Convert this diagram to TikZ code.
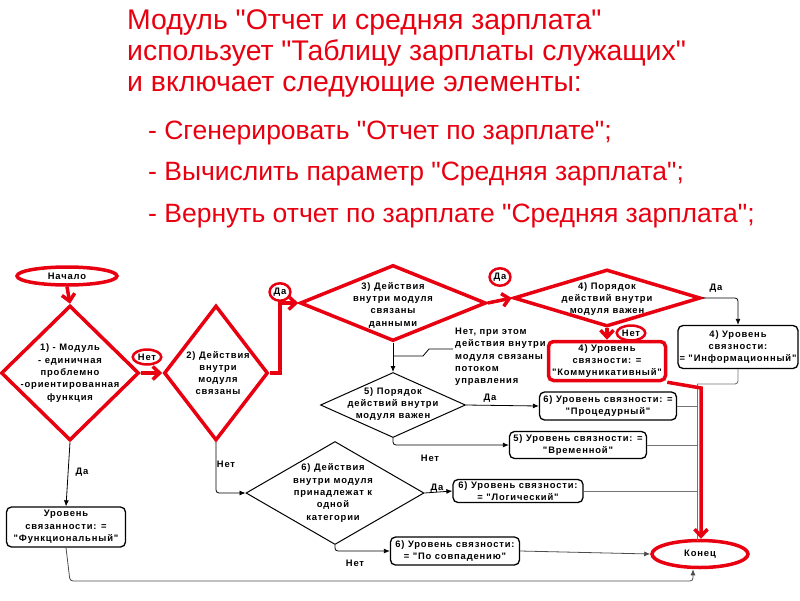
\documentclass[tikz,border=0pt]{standalone}
\usepackage{fontspec}
\setmainfont{Liberation Sans}
\newfontfamily\ttlfont{Liberation Sans}
\newfontfamily\dg[LetterSpace=9]{Liberation Sans}
\usetikzlibrary{shapes.geometric,arrows.meta}
\definecolor{hl}{RGB}{232,0,16}
\begin{document}
\begin{tikzpicture}[x=1pt,y=-1pt,
  dtxt/.style={font=\dg\bfseries\fontsize{9.4}{12.3}\selectfont, align=center, inner sep=0pt},
  rdia/.style={diamond, draw=hl, line width=3.5pt, inner sep=0pt},
  bdia/.style={diamond, draw=black, line width=1pt, inner sep=0pt},
  rbx/.style={dtxt, draw=black, line width=1.3pt, rounded corners=5pt},
  rbxred/.style={rbx, draw=hl, line width=3.5pt},
  rell/.style={dtxt, ellipse, draw=hl, line width=3.5pt},
  rlab/.style={dtxt, ellipse, draw=hl, line width=2.5pt, inner xsep=1pt, inner ysep=2pt},
  blab/.style={dtxt},
  con/.style={draw=black, line width=0.8pt, rounded corners=3pt, -{Latex[length=6pt,width=5pt]}},
  ln/.style={draw=black!55, line width=0.9pt, rounded corners=3pt},
  rar/.style={draw=hl, line width=3.5pt, -{Straight Barb[length=7pt,width=13pt]}},
  ttl/.style={anchor=base west, inner sep=0pt, text=hl, font=\ttlfont\fontsize{28.4}{30}\selectfont},
  ttlb/.style={ttl, font=\ttlfont\fontsize{26.5}{30}\selectfont}]
\useasboundingbox (0,0) rectangle (800,600);

% title
\node[ttl] (t1) at (127,29) {Модуль "Отчет и средняя зарплата"};
\node[ttl] (t2) at (127,60) {использует "Таблицу зарплаты служащих"};
\node[ttl] (t3) at (127,91) {и включает следующие элементы:};
\node[ttlb] (b1) at (148,139) {- Сгенерировать "Отчет по зарплате";};
\node[ttlb] (b2) at (148,180) {- Вычислить параметр "Средняя зарплата";};
\node[ttlb] (b3) at (148,222) {- Вернуть отчет по зарплате "Средняя зарплата";};

% diamonds
\node[rdia, minimum width=138pt, minimum height=135pt] (d1) at (70,373) {};
\node[dtxt] (d1t) at (70,373) {1) - Модуль\\- единичная\\проблемно\\-ориентированная\\функция};
\node[rdia, minimum width=104pt, minimum height=135pt] (d2) at (216,373) {};
\node[dtxt] (d2t) at (218,373) {2) Действия\\внутри\\модуля\\связаны};
\node[rdia, minimum width=186pt, minimum height=76pt] (d3) at (393,303) {};
\node[dtxt] (d3t) at (393,305) {3) Действия\\внутри модуля\\связаны\\данными};
\node[rdia, minimum width=187pt, minimum height=57pt] (d4) at (607,298) {};
\node[dtxt] (d4t) at (607,299) {4) Порядок\\действий внутри\\модуля важен};
\node[bdia, minimum width=145pt, minimum height=65pt] (d5) at (393,405) {};
\node[dtxt] (d5t) at (393,404) {5) Порядок\\действий внутри\\модуля важен};
\node[bdia, minimum width=178pt, minimum height=103pt] (d6) at (335,493) {};
\node[dtxt] (d6t) at (333,493) {6) Действия\\внутри модуля\\принадлежат к\\одной\\категории};

% terminals and boxes
\node[rell, minimum width=100pt, minimum height=18pt] (nach) at (67,276) {Начало};
\node[rell, minimum width=96pt, minimum height=27pt] (kon) at (700,554) {Конец};
\node[rbx, minimum width=119pt, minimum height=40pt] (fn) at (66,527) {Уровень\\связанности: =\\"Функциональный"};
\node[rbx, minimum width=120pt, minimum height=43pt] (inf) at (738,347) {4) Уровень\\связности:\\= "Информационный"};
\node[rbxred, minimum width=117pt, minimum height=39pt] (km) at (607,361) {4) Уровень\\связности: =\\"Коммуникативный"};
\node[rbx, minimum width=137pt, minimum height=28pt] (pr) at (608,406) {6) Уровень связности: =\\"Процедурный"};
\node[rbx, minimum width=137pt, minimum height=27pt] (vr) at (578,445) {5) Уровень связности: =\\"Временной"};
\node[rbx, minimum width=130pt, minimum height=23pt] (lg) at (518,491) {6) Уровень связности:\\= "Логический"};
\node[rbx, minimum width=129pt, minimum height=28pt] (ps) at (455,551) {6) Уровень связности:\\= "По совпадению"};

% callout text
\node[dtxt, align=left, anchor=north west] (cl) at (455,328) {Нет, при этом\\действия внутри\\модуля связаны\\потоком\\управления};

% labels
\node[rlab] (n1) at (147,357) {Нет};
\node[rlab] (y1) at (280,292) {Да};
\node[rlab] (y2) at (500,277) {Да};
\node[rlab] (n2) at (631,333) {Нет};
\node[blab] (la1) at (716,288) {Да};
\node[blab] (la2) at (490,398) {Да};
\node[blab] (la3) at (430,458) {Нет};
\node[blab] (la4) at (82,472) {Да};
\node[blab] (la5) at (226,464) {Нет};
\node[blab] (la6) at (437,488) {Да};
\node[blab] (la7) at (355,563) {Нет};

% coordinates
\coordinate (tr) at (697,384);
\coordinate (tb) at (697,541);
\coordinate (z1) at (394,356);
\coordinate (z2) at (423,356);
\coordinate (z3) at (429,349);
\coordinate (z4) at (453,349);
\coordinate (bl) at (70,581);
\coordinate (br) at (693,581);
\coordinate (r1) at (280,373);
\coordinate (r3) at (701,388);

% black connectors
\draw[con] (d1.south) -- (fn.north);
\draw[con] (d2.south) |- (d6.west);
\draw[con] (d3.south) -- (d5.north);
\draw[draw=black, line width=0.8pt] (z1) -- (z2) -- (z3) -- (z4);
\draw[con] (d5.east) -- (pr.west);
\draw[con] (d5.south) |- (vr.west);
\draw[con] (d6.east) -- (lg.west);
\draw[con] (d6.south) |- (ps.west);
\draw[con] (d4.east) -| (inf.north);
\draw[ln] (inf.south) |- (tr);
\draw[ln] (tr) -- (tb);
\draw[ln] (pr.east) -- (pr.east -| tr);
\draw[ln] (vr.east) -- (vr.east -| tr);
\draw[ln] (lg.east) -- (lg.east -| tr);
\draw[con, draw=black!70] (ps.east) -- (kon.west);
\draw[con, draw=black!70] (fn.south) -- (bl) -- (br) -- (br |- kon.south);

% red path
\draw[rar] (nach.south) -- (d1.north);
\draw[rar] (d1.east) -- (d2.west);
\draw[rar] (d2.east) -- (r1) |- (d3.west);
\draw[rar] (d3.east) -- (d4.west);
\draw[rar] (d4.south) -- (km.north);
\draw[rar] (km.south east) -- (r3) -- (r3 |- kon.north);
\end{tikzpicture}
\end{document}
